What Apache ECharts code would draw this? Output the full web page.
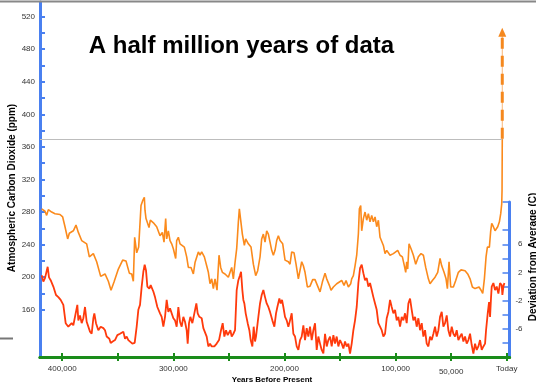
<!DOCTYPE html>
<html>
<head>
<meta charset="utf-8">
<script src="https://cdn.jsdelivr.net/npm/echarts@6/dist/echarts.min.js"></script>
<style>
html, body { margin: 0; padding: 0; background: #fff; }
#chart { width: 536px; height: 385px; }
</style>
</head>
<body>
<div id="chart"></div>
<script>
// CO2 record: years before present / ppm
const co2Years = [418500, 415500, 414000, 412500, 409500, 406500, 402000, 399600, 397500, 395100, 393600, 390000, 387600, 385500, 382500, 378000, 375600, 372000, 369000, 365400, 361500, 358500, 356100, 353400, 349500, 345600, 342600, 339600, 337500, 336000, 334800, 333000, 331200, 329100, 327600, 326100, 325500, 324600, 323400, 321900, 320700, 317400, 315000, 312000,
  311100, 309900, 308400, 306900, 306000, 304500, 303000, 301500, 300000, 297900, 297000, 295500, 294000, 292500, 290100, 288000, 286500, 284100, 282000, 280500, 277500, 276000, 274500, 272100, 270000, 268500, 267000, 265500, 264000, 262500, 260700, 258900, 257400, 255900, 253500, 250500, 249000, 247500, 246000, 244500, 243000, 241500, 240600, 239400, 237900, 236100, 234900, 232500, 230100, 228000, 225900, 224100, 222000, 220500, 219000, 217500, 216000, 214500, 213000, 211500,
  210000, 208500, 207000, 205500, 204000, 201600, 199500, 196500, 195000, 193500, 191400, 189600, 187500, 186000, 184500, 183000, 181500, 179400, 177000, 174600, 172500, 170400, 168000, 165900, 163500, 162000, 159600, 158100, 156000, 153000, 148500, 146400, 144600, 142500, 140400, 139500, 138000, 136500, 135000, 133500, 132600, 131400, 130500, 129000, 127500, 126000, 124500, 123000, 121500, 120000, 118500, 117000, 115500, 114000, 111000, 109500, 108000, 106500,
  105000, 103500, 102000, 100500, 98100, 96000, 93900, 92100, 90900, 90000, 89100, 87900, 86100, 84000, 81900, 79500, 77100, 75000, 72900, 70500, 69000, 66900, 64500, 62100, 60000, 58500, 56400, 54600, 53400, 51900, 50400, 48000, 45900, 43500, 41100, 37500, 35100, 33000, 30900, 28500, 27000, 24900, 23100, 21600, 20100, 18600, 17400, 15600, 14400, 13500, 12000, 10500, 9600, 8100, 6600, 5400, 4500, 4200, 4000]
const co2Ppm = [284, 281, 276, 283, 280, 278, 277, 274, 262, 247, 254, 257, 264, 255, 245, 241, 225, 229, 219, 201, 204, 195, 184, 194, 210, 221, 220, 205, 204, 195, 249, 230, 237, 288, 294, 298, 282, 272, 274, 261, 270, 266, 262, 251,
  249, 255, 243, 272, 247, 257, 245, 241, 235, 223, 245, 249, 241, 243, 237, 225, 212, 212, 204, 218, 231, 227, 231, 225, 214, 206, 192, 198, 186, 198, 184, 227, 212, 206, 204, 200, 198, 212, 198, 218, 235, 268, 284, 270, 253, 239, 247, 241, 237, 216, 202, 208, 225, 247, 253, 243, 257, 253, 243, 233,
  227, 233, 245, 251, 245, 241, 221, 219, 216, 231, 230, 216, 198, 197, 219, 214, 206, 188, 189, 197, 197, 190, 182, 194, 205, 198, 190, 184, 188, 192, 196, 190, 196, 188, 192, 198, 202, 214, 227, 253, 284, 288, 257, 272, 280, 270, 278, 268, 276, 268, 274, 262, 270, 249, 239, 229, 233, 234,
  227, 227, 229, 231, 233, 227, 225, 214, 206, 219, 210, 241, 235, 227, 216, 225, 229, 227, 212, 198, 192, 196, 200, 206, 223, 214, 206, 198, 186, 219, 188, 188, 196, 206, 209, 208, 204, 198, 188, 186, 188, 188, 184, 180, 198, 225, 237, 237, 257, 266, 262, 257, 255, 262, 268, 278, 290, 307, 370]

// temperature record: years before present / deviation (C)
const tempYears = [418500, 417000, 415500, 414000, 413100, 411900, 410400, 408000, 405600, 403500, 401400, 399000, 396900, 394500, 391500, 390000, 388500, 386400, 385500, 384000, 382500, 381000, 379500, 378000, 376500, 375000, 373500, 372000, 371100, 369600, 367500, 365400, 363000, 361500, 360000, 357600, 356400, 354600, 352500, 350400, 348000, 346500, 345000, 343500, 342000, 340500, 339000, 336900, 334800, 333000, 331500, 330000, 328500, 327000, 325800, 324600, 323400, 321600, 320400, 318000, 316500, 314400, 312000,
  310500, 309000, 307500, 306000, 304500, 303000, 301500, 300000, 298500, 297000, 295500, 294000, 292500, 291000, 289500, 288000, 287100, 285900, 284700, 282900, 281100, 279300, 278100, 276600, 274500, 273000, 271500, 270000, 268500, 267000, 265500, 263100, 261000, 258900, 257100, 255600, 254100, 252600, 251100, 249600, 248700, 247500, 246000, 244500, 243000, 241500, 240000, 239100, 237900, 237000, 236100, 234900, 233100, 231600, 230400, 228900, 227700, 226500, 225600, 223500, 222000, 220500, 219000, 217500, 216000, 214500, 213000, 210900, 209100,
  207600, 206400, 204600, 203400, 202200, 201000, 199500, 198000, 196500, 195000, 193500, 192000, 190500, 189000, 187500, 186000, 184500, 183000, 181500, 180000, 178500, 177000, 175500, 174000, 172500, 171000, 169500, 168000, 166500, 165000, 163500, 162000, 160500, 159000, 157500, 156000, 154500, 153000, 151500, 150000, 148500, 147000, 145500, 144000, 142500, 141000, 139500, 138000, 136500, 135000, 133500, 132000, 130500, 129000, 127500, 126000, 124500, 123000, 121500, 120000, 118500, 117000, 115500, 114000, 112500, 111000, 109500, 108000, 106500, 105000,
  103500, 102000, 100500, 99000, 97500, 96000, 94500, 93000, 91500, 90000, 88500, 87000, 85500, 84000, 82500, 81000, 79500, 78000, 76500, 75000, 73500, 72000, 70500, 69000, 67500, 66000, 64500, 63000, 61500, 60000, 58500, 57000, 55500, 54000, 52500, 51000, 49500, 48000, 46500, 45000, 43500, 42000, 40500, 39000, 37500, 36000, 34500, 33000, 31500, 30000, 28500, 27000, 25500, 24000, 22500, 21000, 19500, 18600, 17100, 15900, 15000, 14100, 13500, 12000, 10500, 9000, 7500, 6000, 4500, 3900, 3000, 2100]
const tempDev = [1.6, 0.7, 1.2, 1.3, 2.8, 1.3, 0.9, 0.0, -1.2, -1.5, -1.9, -2.6, -5.2, -5.7, -5.2, -5.5, -5.7, -2.6, -4.8, -4.1, -5.2, -4.5, -2.9, -5.0, -5.2, -6.4, -6.7, -4.5, -3.8, -5.2, -6.2, -5.7, -5.9, -6.2, -7.1, -7.4, -8.0, -7.8, -7.6, -6.9, -6.7, -6.9, -6.4, -7.4, -7.1, -7.6, -7.6, -8.1, -8.0, -5.7, -3.3, -2.6, 0.0, 2.1, 3.1, 2.3, 0.0, -0.3, 0.2, -0.7, -1.5, -2.9, -3.8,
  -4.3, -5.7, -4.3, -1.9, -3.6, -3.1, -3.3, -4.5, -4.8, -5.7, -2.9, -5.0, -5.7, -4.3, -5.0, -6.2, -8.1, -5.2, -4.3, -5.2, -3.8, -2.4, -3.8, -4.3, -4.5, -5.9, -5.7, -7.1, -8.5, -8.1, -8.5, -8.5, -8.1, -7.6, -6.2, -5.2, -7.1, -6.2, -6.9, -7.1, -6.2, -7.1, -6.7, -6.2, -0.5, 0.9, 1.6, 2.1, -0.5, -1.9, -2.4, -3.8, -5.2, -6.2, -7.6, -8.5, -5.7, -7.8, -7.1, -4.3, -2.4, -1.2, -0.5, -1.5, -2.4, -2.9, -3.6, -4.8, -5.7,
  -3.8, -2.9, -1.7, -2.4, -1.9, -2.9, -4.3, -4.8, -5.7, -4.8, -3.8, -6.7, -7.1, -8.5, -9.0, -7.6, -7.1, -5.5, -7.6, -5.9, -7.1, -5.7, -7.6, -6.2, -5.2, -9.0, -7.1, -8.1, -9.0, -9.5, -6.7, -8.5, -7.6, -7.1, -8.5, -6.9, -8.1, -7.1, -8.5, -7.6, -8.1, -8.8, -7.8, -8.5, -8.1, -9.5, -8.1, -6.2, -4.8, -2.9, 0.5, 2.6, 3.1, 1.9, 0.9, 1.2, 0.0, 0.5, -0.5, -1.5, -2.4, -3.3, -5.2, -5.7, -6.2, -7.1, -6.7, -4.5, -3.6, -1.9,
  -2.9, -3.8, -3.3, -4.8, -4.3, -5.7, -4.3, -4.8, -3.8, -5.2, -2.4, -1.7, -3.3, -4.8, -4.3, -5.7, -4.5, -6.2, -5.2, -7.1, -6.2, -8.1, -8.5, -7.1, -7.6, -6.7, -5.7, -7.1, -6.2, -4.3, -3.6, -5.7, -5.2, -4.1, -6.2, -7.1, -5.7, -6.7, -7.1, -6.2, -7.6, -7.1, -6.7, -7.8, -7.1, -8.1, -7.6, -6.7, -8.3, -9.5, -8.1, -9.0, -8.5, -7.6, -9.0, -8.5, -8.1, -6.2, -3.8, -2.2, -4.3, -1.5, 0.0, 0.5, -0.5, 0.0, -1.0, 0.5, 0.2, -1.2, 0.0, 0.5]

// projected CO2 (dashed arrow) and present-day level
const projYears = [4000, 4000]
const projPpm = [370, 501]
const presentPpm = 370

// ticks and labels
const xTicks = [0, 50000, 100000, 150000, 200000, 250000, 300000, 350000, 400000]
const xLabelValues = [400000, 300000, 200000, 100000, 50000, 0]
const xLabelText = ['400,000', '300,000', '200,000', '100,000', '50,000', 'Today']
const ppmTicks = [160, 180, 200, 220, 240, 260, 280, 300, 320, 340, 360, 380, 400, 420, 440, 460, 480, 500, 520]
const ppmLabels = [160, 200, 240, 280, 320, 360, 400, 440, 480, 520]
const tempTicks = [-8, -6, -4, -2, 0, 2, 4, 6, 8, 12]
const tempLabels = [6, 2, -2, -6]

const FONT = "'Liberation Sans', Arial, sans-serif"
const BLUE = '#4a80f0'
const GREEN = '#1a8c1a'

const chart = echarts.init(document.getElementById('chart'))

function xAxisBase (gridIndex) {
  return {
    type: 'value',
    gridIndex: gridIndex,
    min: -2500,
    max: 420000,
    inverse: true,
    axisLine: { show: true, onZero: false, lineStyle: { color: GREEN, width: 3 } },
    splitLine: { show: false }
  }
}

const option = {
  animation: false,
  backgroundColor: '#fff',
  grid: [
    { left: 40, right: 26.5, top: 2, bottom: 28, containLabel: false, outerBoundsMode: 'none' },
    { left: 40, right: 26.5, top: 202, bottom: 28, containLabel: false, outerBoundsMode: 'none' }
  ],
  xAxis: [
    Object.assign(xAxisBase(0), {
      axisTick: { show: true, inside: true, length: 4, customValues: xTicks, lineStyle: { color: GREEN, width: 2 } },
      axisLabel: {
        show: true,
        customValues: xLabelValues,
        fontSize: 8,
        fontFamily: FONT,
        color: '#333',
        margin: 8,
        formatter: function (v) {
          const t = xLabelText[xLabelValues.indexOf(v)]
          if (v === 50000) return '{lo|' + t + '}'
          if (v === 0) return '{hi|' + t + '}'
          return t
        },
        rich: {
          lo: { fontSize: 8, fontFamily: FONT, color: '#333', padding: [3, 0, 0, 0] },
          hi: { fontSize: 8, fontFamily: FONT, color: '#333', padding: [0, 0, 3, 0] }
        }
      }
    }),
    Object.assign(xAxisBase(1), {
      axisTick: { show: true, inside: false, length: 4, customValues: xTicks, lineStyle: { color: GREEN, width: 2 } },
      axisLabel: { show: false }
    })
  ],
  yAxis: [
    {
      type: 'value',
      gridIndex: 0,
      position: 'left',
      min: 102,
      max: 538,
      axisLine: { show: true, onZero: false, lineStyle: { color: BLUE, width: 3 } },
      axisTick: { show: true, inside: true, length: 5, customValues: ppmTicks, lineStyle: { color: BLUE, width: 2 } },
      axisLabel: { customValues: ppmLabels, fontSize: 8, fontFamily: FONT, color: '#333', margin: 5 },
      splitLine: { show: false }
    },
    {
      type: 'value',
      gridIndex: 1,
      position: 'right',
      min: -10,
      max: 12,
      axisLine: { show: true, onZero: false, lineStyle: { color: BLUE, width: 3 } },
      axisTick: { show: true, inside: true, length: 7, customValues: tempTicks, lineStyle: { color: BLUE, width: 1.5 } },
      axisLabel: { customValues: tempLabels, fontSize: 8, fontFamily: FONT, color: '#333', align: 'right', margin: 13 },
      splitLine: { show: false }
    }
  ],
  series: [
    {
      name: 'CO2',
      type: 'line',
      xAxisIndex: 0,
      yAxisIndex: 0,
      showSymbol: false,
      data: co2Years.map((y, i) => [y, co2Ppm[i]]),
      lineStyle: { color: '#fb8a1c', width: 1.6 },
      itemStyle: { color: '#fb8a1c' },
      markLine: {
        silent: true,
        symbol: 'none',
        label: { show: false },
        lineStyle: { color: '#bdbdbd', width: 1, type: 'solid' },
        data: [[{ coord: [420000, presentPpm] }, { coord: [projYears[0], presentPpm] }]]
      },
      z: 3
    },
    {
      name: 'projection thin',
      type: 'line',
      xAxisIndex: 0,
      yAxisIndex: 0,
      showSymbol: false,
      data: projYears.map((y, i) => [y, projPpm[i]]),
      lineStyle: { color: '#f9b577', width: 1 },
      z: 3
    },
    {
      name: 'projection',
      type: 'line',
      xAxisIndex: 0,
      yAxisIndex: 0,
      showSymbol: true,
      data: projYears.map((y, i) => ({
        value: [y, projPpm[i]],
        symbol: i === projYears.length - 1 ? 'triangle' : 'none',
        symbolSize: [8, 9]
      })),
      lineStyle: { color: '#f5881e', width: 3, type: [11, 7] },
      itemStyle: { color: '#f5881e' },
      z: 4
    },
    {
      name: 'Temperature',
      type: 'line',
      xAxisIndex: 1,
      yAxisIndex: 1,
      showSymbol: false,
      data: tempYears.map((y, i) => [y, tempDev[i]]),
      lineStyle: { color: '#ff3a0c', width: 1.8 },
      itemStyle: { color: '#ff3a0c' },
      z: 5
    }
  ],
  graphic: [
    { type: 'line', shape: { x1: 0, y1: 1.5, x2: 536, y2: 1.5 }, style: { stroke: '#888', lineWidth: 2 }, z: 10 },
    { type: 'line', shape: { x1: 0, y1: 338.5, x2: 13, y2: 338.5 }, style: { stroke: '#777', lineWidth: 2 } },
    {
      type: 'text', x: 241.5, y: 46,
      style: { text: 'A half million years of data', font: 'bold 24px ' + FONT, fill: '#000', textAlign: 'center', textVerticalAlign: 'middle' }
    },
    {
      type: 'text', x: 12, y: 188, rotation: Math.PI / 2,
      style: { text: 'Atmospheric Carbon Dioxide (ppm)', font: 'bold 10px ' + FONT, fill: '#000', textAlign: 'center', textVerticalAlign: 'middle' }
    },
    {
      type: 'text', x: 533, y: 257, rotation: Math.PI / 2,
      style: { text: 'Deviation from Average (C)', font: 'bold 10px ' + FONT, fill: '#000', textAlign: 'center', textVerticalAlign: 'middle' }
    },
    {
      type: 'text', x: 272, y: 380,
      style: { text: 'Years Before Present', font: 'bold 8px ' + FONT, fill: '#000', textAlign: 'center', textVerticalAlign: 'middle' }
    }
  ]
}

chart.setOption(option)
</script>
</body>
</html>
